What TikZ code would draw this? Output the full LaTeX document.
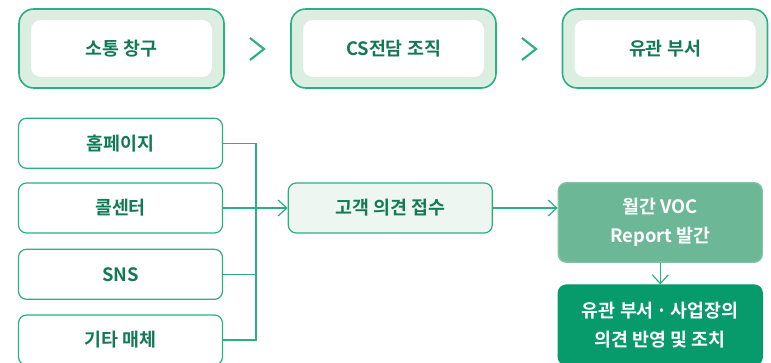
\documentclass[tikz,border=0pt]{standalone}
\usepackage{fontspec}
\setmainfont{Noto Sans CJK KR}[BoldFont={* Bold}]
\usetikzlibrary{arrows.meta}
\definecolor{gline}{HTML}{2BB083}
\definecolor{gtext}{HTML}{137A55}
\definecolor{gpale}{HTML}{DCEDE2}
\definecolor{glight}{HTML}{EEF6F1}
\definecolor{gmid}{HTML}{6CB896}
\definecolor{gdark}{HTML}{079A6B}
\tikzset{
  lbl/.style={font=\bfseries\fontsize{13.8pt}{16pt}\selectfont},
  outerbox/.style={draw=gline, line width=1.2pt, fill=gpale, rounded corners=11pt, minimum width=153.75pt, minimum height=59.25pt},
  innerbox/.style={lbl, fill=white, rounded corners=7.5pt, minimum width=135.75pt, minimum height=42.75pt, text=gtext},
  srcbox/.style={lbl, draw=gline, line width=0.9pt, fill=white, rounded corners=6pt, minimum width=153pt, minimum height=37.5pt, text=gtext},
  recvbox/.style={lbl, draw=gline, line width=0.9pt, fill=glight, rounded corners=6pt, minimum width=153pt, minimum height=37.5pt, text=gtext},
  vocbox/.style={draw=gmid!85!white, line width=0.9pt, fill=gmid, rounded corners=6pt, minimum width=153pt, minimum height=59.7pt, text=white, align=center, font=\bfseries\fontsize{13.8pt}{21.8pt}\selectfont},
  actbox/.style={draw=gdark, line width=0.9pt, fill=gdark, rounded corners=6pt, minimum width=153pt, minimum height=60pt, text=white, align=center, font=\bfseries\fontsize{13.8pt}{21.8pt}\selectfont},
  chev/.style={draw=gline, line width=1.6pt},
  conn/.style={draw=gline, line width=0.9pt},
  arr/.style={conn, -{Straight Barb[length=6.5pt,width=12pt,line width=0.9pt]}},
}
\begin{document}
\begin{tikzpicture}[x=0.75pt,y=-0.75pt]
\useasboundingbox (0,0) rectangle (771,363);
\begin{scope}
\clip (0,0) rectangle (771,363);
% top row
\node[outerbox] (o1) at (121.5,48.5) {};
\node[innerbox] (t1) at (121.5,48.5) {소통 창구};
\node[outerbox] (o2) at (393.5,48.5) {};
\node[innerbox] (t2) at (393.5,48.5) {CS전담 조직};
\node[outerbox] (o3) at (665,48.5) {};
\node[innerbox] (t3) at (665,48.5) {유관 부서};
\draw[chev] (250,38) -- (264,49) -- (250,60);
\draw[chev] (522,38) -- (536,49) -- (522,60);
% sources
\node[srcbox] (l1) at (120.5,143.3) {홈페이지};
\node[srcbox] (l2) at (120.5,208) {콜센터};
\node[srcbox] (l3) at (120.5,274.3) {SNS};
\node[srcbox] (l4) at (120.5,340) {기타 매체};
\node[recvbox] (recv) at (390.3,208) {고객 의견 접수};
\node[vocbox] (voc) at (660.3,222.5) {월간 VOC\\Report 발간};
\node[actbox] (act) at (660.3,325) {유관 부서\,·\,사업장의\\의견 반영 및 조치};
\coordinate (j) at (256,208);
\draw[conn] (l1.east) -| (j);
\draw[conn] (l3.east) -| (j);
\draw[conn] (l4.east) -| (j);
\draw[arr] (l2.east) -- (recv.west);
\draw[arr] (recv.east) -- (voc.west |- recv.east);
\draw[arr] (voc.south) -- (act.north);
\end{scope}
\end{tikzpicture}
\end{document}
